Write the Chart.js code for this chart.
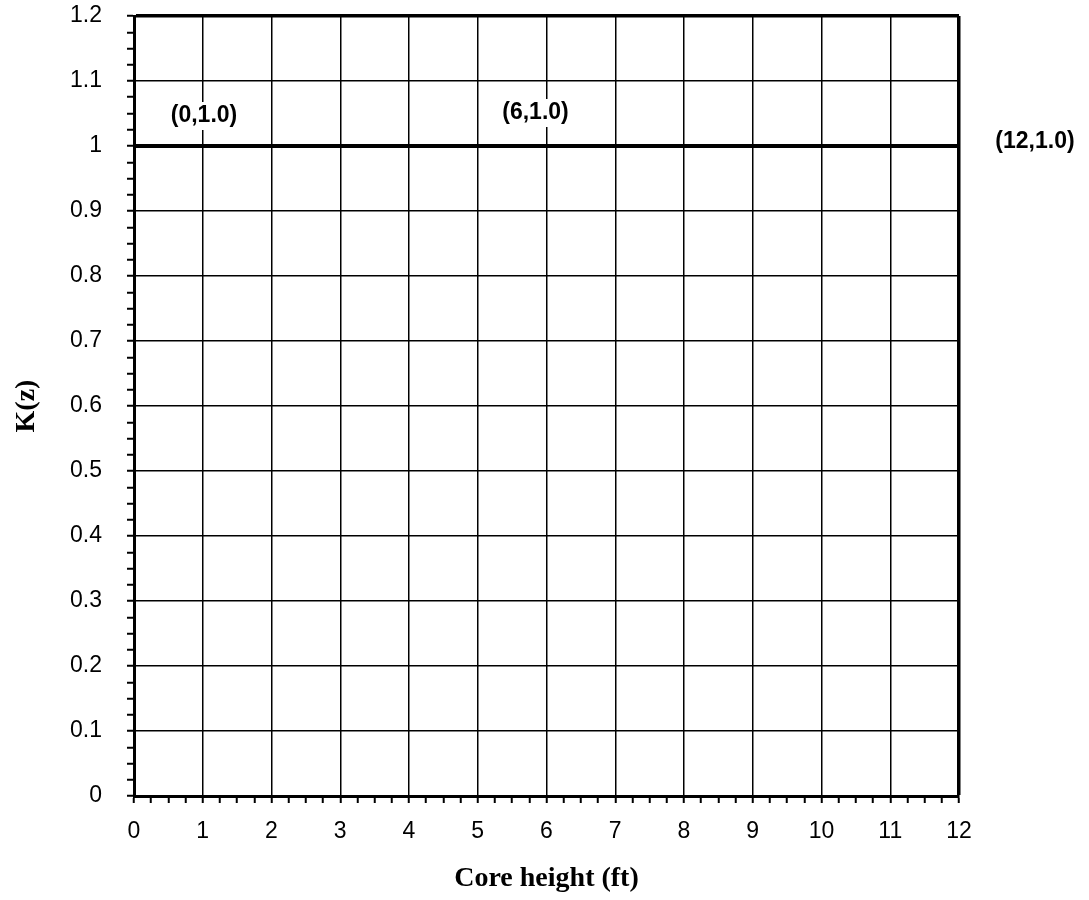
<!DOCTYPE html>
<html>
<head>
<meta charset="utf-8">
<script src="https://cdn.jsdelivr.net/npm/chart.js@4.4.1/dist/chart.umd.min.js"></script>
<style>
  html, body { margin: 0; padding: 0; background: #fff; }
  #wrap { width: 1089px; height: 900px; position: relative; }
</style>
</head>
<body>
<div id="wrap"><canvas id="c" width="1089" height="900"></canvas></div>
<script>
// ---- Data ----
const coreHeight = [0, 6, 12];          // ft
const kValues = [1.0, 1.0, 1.0];        // K(z)
const pointLabels = ['(0,1.0)', '(6,1.0)', '(12,1.0)'];
const xTickMajor = [0, 1, 2, 3, 4, 5, 6, 7, 8, 9, 10, 11, 12];
const yTickMajor = [0, 0.1, 0.2, 0.3, 0.4, 0.5, 0.6, 0.7, 0.8, 0.9, 1, 1.1, 1.2];
const xAxisTitle = 'Core height (ft)';
const yAxisTitle = 'K(z)';

// ---- Styles ----
const labelOffsets = [[70, -30], [-11, -33], [76, -4]]; // pixel offsets of point labels

function isMajor(v, list) {
  return list.some(m => Math.abs(m - v) < 1e-6);
}

const whiteBg = {
  id: 'whiteBg',
  beforeDraw(chart) {
    const ctx = chart.ctx;
    ctx.save();
    ctx.fillStyle = '#fff';
    ctx.fillRect(0, 0, chart.width, chart.height);
    ctx.restore();
  }
};

const pointLabelPlugin = {
  id: 'pointLabelPlugin',
  afterDraw(chart) {
    const ctx = chart.ctx;
    const xs = chart.scales.x, ys = chart.scales.y;
    ctx.save();
    ctx.font = 'bold 23px "Liberation Sans", Arial, sans-serif';
    ctx.textAlign = 'center';
    ctx.textBaseline = 'middle';
    coreHeight.forEach((xv, i) => {
      const px = xs.getPixelForValue(xv) + labelOffsets[i][0];
      const py = ys.getPixelForValue(kValues[i]) + labelOffsets[i][1];
      const w = ctx.measureText(pointLabels[i]).width;
      ctx.fillStyle = '#fff';
      ctx.fillRect(px - w / 2 - 2, py - 14, w + 4, 28);
      ctx.fillStyle = '#000';
      ctx.fillText(pointLabels[i], px, py);
    });
    ctx.restore();
  }
};

const tickFont = { family: '"Liberation Sans", Arial, sans-serif', size: 23 };
const titleFont = { family: '"Liberation Serif", "Times New Roman", serif', size: 28, weight: 'bold' };

new Chart(document.getElementById('c'), {
  type: 'line',
  data: {
    datasets: [{
      data: coreHeight.map((x, i) => ({ x: x, y: kValues[i] })),
      borderColor: '#000',
      borderWidth: 4,
      pointRadius: 0,
      fill: false,
      tension: 0
    }]
  },
  options: {
    responsive: false,
    animation: false,
    devicePixelRatio: 1,
    layout: { padding: { top: 16, right: 130, left: 0, bottom: 0 } },
    plugins: { legend: { display: false }, tooltip: { enabled: false } },
    scales: {
      x: {
        type: 'linear',
        min: 0, max: 12,
        afterFit(s) { s.height = 104; s.paddingLeft = 0; s.paddingRight = 0; },
        border: { display: true, color: '#000', width: 3 },
        grid: {
          drawOnChartArea: true,
          drawTicks: true,
          tickLength: 7,
          tickWidth: 2,
          tickColor: '#000',
          color: ctx => (ctx.tick && isMajor(ctx.tick.value, xTickMajor)) ? '#000' : 'rgba(0,0,0,0)',
          lineWidth: ctx => (ctx.tick && Math.abs(ctx.tick.value - 12) < 1e-6) ? 3.5 : 1.5
        },
        ticks: {
          stepSize: 0.25,
          autoSkip: false,
          maxRotation: 0, minRotation: 0,
          padding: 15,
          color: '#000',
          font: tickFont,
          callback: v => isMajor(v, xTickMajor) ? String(Math.round(v)) : ''
        },
        title: { display: true, text: xAxisTitle, color: '#000', font: titleFont, padding: { top: 0, bottom: 4 } }
      },
      y: {
        type: 'linear',
        min: 0, max: 1.2,
        afterFit(s) { s.width = 134; s.paddingTop = 0; s.paddingBottom = 0; },
        border: { display: true, color: '#000', width: 3 },
        grid: {
          drawOnChartArea: true,
          drawTicks: true,
          tickLength: 7,
          tickWidth: 2,
          tickColor: '#000',
          color: ctx => (ctx.tick && isMajor(ctx.tick.value, yTickMajor)) ? '#000' : 'rgba(0,0,0,0)',
          lineWidth: ctx => (ctx.tick && Math.abs(ctx.tick.value - 1.2) < 1e-6) ? 3.5 : 1.5
        },
        ticks: {
          stepSize: 0.025,
          autoSkip: false,
          padding: 25,
          color: '#000',
          font: tickFont,
          callback: v => isMajor(v, yTickMajor) ? String(Number(v.toFixed(1))) : ''
        },
        title: { display: true, text: yAxisTitle, color: '#000', font: titleFont, padding: { top: 10, bottom: 0 } }
      }
    }
  },
  plugins: [whiteBg, pointLabelPlugin]
});
</script>
</body>
</html>
